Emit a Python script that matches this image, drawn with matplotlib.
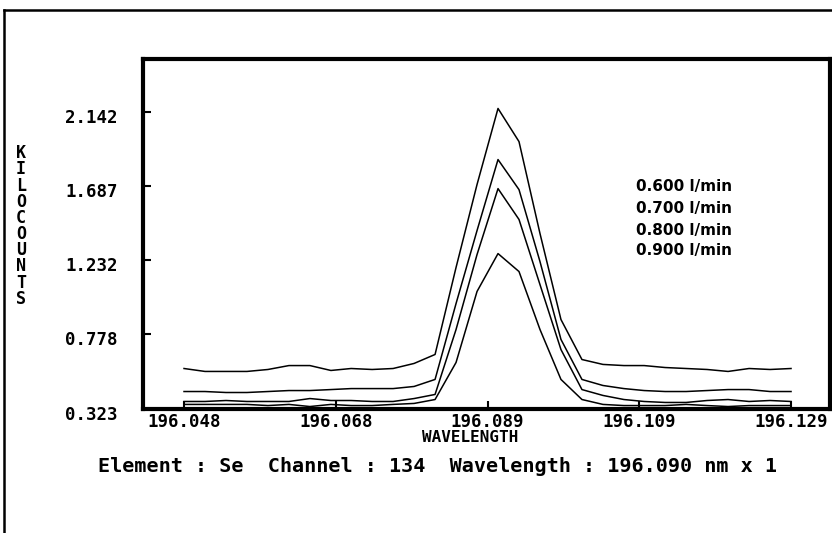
import matplotlib
matplotlib.use("Agg")
import matplotlib.pyplot as plt
from matplotlib.lines import Line2D
from matplotlib.transforms import ScaledTranslation

# channel wavelengths (nm)
wavelength = [196.0480, 196.0508, 196.0536, 196.0564, 196.0592, 196.0620,
              196.0648, 196.0676, 196.0703, 196.0731, 196.0759, 196.0787,
              196.0815, 196.0843, 196.0871, 196.0899, 196.0927, 196.0955,
              196.0983, 196.1011, 196.1039, 196.1067, 196.1094, 196.1122,
              196.1150, 196.1178, 196.1206, 196.1234, 196.1262, 196.1290]

# kilocounts per nebulizer flow
counts_600 = [0.568, 0.550, 0.550, 0.550, 0.562, 0.586, 0.586, 0.556, 0.568, 0.562,
              0.568, 0.599, 0.654, 1.187, 1.695, 2.161, 1.958, 1.395, 0.868, 0.623,
              0.593, 0.586, 0.586, 0.574, 0.568, 0.562, 0.550, 0.568, 0.562, 0.568]
counts_700 = [0.427, 0.427, 0.421, 0.421, 0.427, 0.433, 0.433, 0.439, 0.445, 0.445,
              0.445, 0.458, 0.501, 0.966, 1.413, 1.848, 1.664, 1.223, 0.746, 0.501,
              0.464, 0.445, 0.433, 0.427, 0.427, 0.433, 0.439, 0.439, 0.427, 0.427]
counts_800 = [0.366, 0.366, 0.372, 0.366, 0.366, 0.366, 0.384, 0.372, 0.372, 0.366,
              0.366, 0.384, 0.409, 0.807, 1.266, 1.670, 1.481, 1.082, 0.684, 0.439,
              0.403, 0.378, 0.366, 0.360, 0.360, 0.372, 0.378, 0.366, 0.372, 0.366]
counts_900 = [0.348, 0.348, 0.348, 0.348, 0.341, 0.348, 0.335, 0.348, 0.341, 0.341,
              0.348, 0.354, 0.378, 0.605, 1.040, 1.272, 1.162, 0.807, 0.501, 0.378,
              0.348, 0.341, 0.341, 0.341, 0.348, 0.341, 0.335, 0.341, 0.341, 0.341]

flow_labels = ['0.600 l/min', '0.700 l/min', '0.800 l/min', '0.900 l/min']

x_ticks = [196.048, 196.06825, 196.0885, 196.10875, 196.129]
x_tick_labels = ['196.048', '196.068', '196.089', '196.109', '196.129']
y_ticks = [0.323, 0.778, 1.232, 1.687, 2.142]
y_tick_labels = ['0.323', '0.778', '1.232', '1.687', '2.142']

W, H = 832, 533
fig = plt.figure(figsize=(W / 100, H / 100), dpi=100)
fig.patch.set_facecolor('white')

# plot area in pixel terms
left, right, top, bottom = 142.5, 830, 59, 408.5
ax = fig.add_axes([left / W, 1 - bottom / H, (right - left) / W, (bottom - top) / H])

for series in (counts_600, counts_700, counts_800, counts_900):
    ax.plot(wavelength, series, color='black', lw=1.1)

ax.set_xlim(196.04246, 196.13420)
ax.set_ylim(0.323, 2.464)

mono = {'family': 'DejaVu Sans Mono', 'weight': 'bold'}
ax.set_xticks(x_ticks)
ax.set_xticklabels(x_tick_labels, fontdict=dict(mono, size=12.5))
ax.set_yticks(y_ticks)
ax.set_yticklabels(y_tick_labels, fontdict=dict(mono, size=12.5))
ax.tick_params(axis='both', direction='in', length=6, width=1.5, color='black')
ax.tick_params(axis='x', pad=3)
ax.tick_params(axis='y', pad=18)
# y labels sit a little below their ticks
shift = ScaledTranslation(0, -4 / 100, fig.dpi_scale_trans)
for lab in ax.get_yticklabels():
    lab.set_transform(lab.get_transform() + shift)

for sp in ax.spines.values():
    sp.set_linewidth(3.0)
    sp.set_color('black')

# vertical axis title, one letter per line
fig.text(21 / W, 1 - 226 / H, '\n'.join('KILOCOUNTS'), ha='center', va='center',
         linespacing=0.87, fontdict=dict(mono, size=12))

fig.text(470 / W, 1 - 437 / H, 'WAVELENGTH', ha='center', va='center',
         fontdict=dict(mono, size=11.5))

for i, lab in enumerate(flow_labels):
    y_px = [186, 208, 230, 251][i]
    fig.text(636 / W, 1 - y_px / H, lab, ha='left', va='center',
             family='DejaVu Sans', weight='bold', size=11)

fig.text(437 / W, 1 - 467 / H,
         'Element : Se  Channel : 134  Wavelength : 196.090 nm x 1',
         ha='center', va='center', fontdict=dict(mono, size=14.5))

# outer frame of the screen
fig.add_artist(Line2D([4 / W, 4 / W], [0, 1 - 9.5 / H], color='black', lw=1.8,
                      transform=fig.transFigure))
fig.add_artist(Line2D([4 / W, 1], [1 - 9.5 / H, 1 - 9.5 / H], color='black', lw=1.8,
                      transform=fig.transFigure))

fig.savefig('out.png', dpi=100, facecolor='white')
